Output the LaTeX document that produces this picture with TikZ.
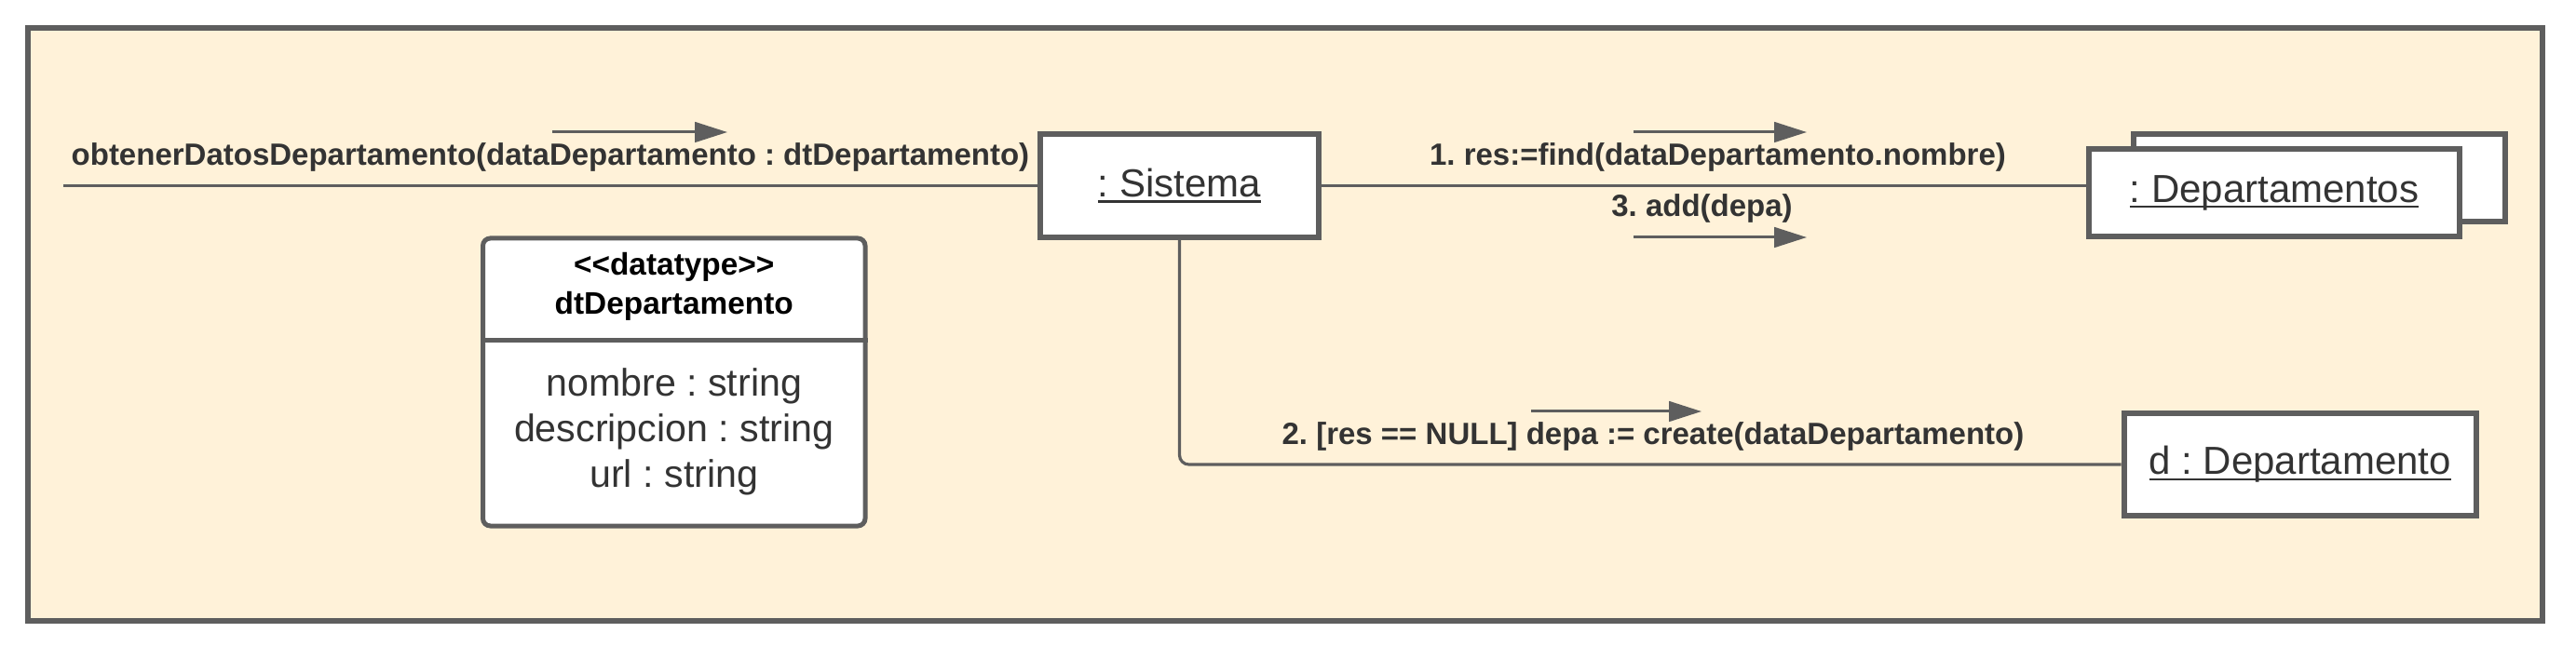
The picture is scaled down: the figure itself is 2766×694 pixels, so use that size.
\documentclass[tikz,border=0pt]{standalone}
\usepackage{fontspec}
\setmainfont{Liberation Sans}
\newcommand\objul[1]{\raisebox{1.5pt}{\setbox0\hbox{#1}\rlap{\vrule height -2pt depth 3.2pt width \wd0}\box0}}
\usetikzlibrary{arrows.meta}
\definecolor{frameFill}{HTML}{FFF2D9}
\definecolor{lineGray}{HTML}{5E5E5E}
\definecolor{txt}{HTML}{333333}
\begin{document}
\frenchspacing
\begin{tikzpicture}[x=0.5pt,y=-0.5pt,
  box/.style={draw=lineGray, line width=3pt, fill=white, inner sep=0pt},
  conn/.style={draw=lineGray, line width=1.6pt},
  msg/.style={draw=lineGray, line width=1.5pt, -{Triangle[length=17.5pt,width=10.8pt]}},
  lbl/.style={text=txt, font=\bfseries\fontsize{16.5}{19}\selectfont, inner sep=0pt},
  objtxt/.style={text=txt, font=\fontsize{21}{24}\selectfont}]
\useasboundingbox[fill=white] (0,0) rectangle (2766,694);
\draw[draw=lineGray, line width=3pt, fill=frameFill] (29.7,29.7) rectangle (2729.7,666.7);

% objects
\node[box, objtxt, minimum width=149.5pt, minimum height=55.7pt] (sis) at (1266.5,199.3) {\objul{: Sistema}};
\node[box, minimum width=199.5pt, minimum height=47pt] (depB) at (2490.5,191) {};
\node[box, objtxt, minimum width=199pt, minimum height=47pt] (depF) at (2442,207) {\objul{: Departamentos}};
\node[box, objtxt, minimum width=189.25pt, minimum height=55pt] (dd) at (2469.75,499) {\objul{d : Departamento}};

% datatype class
\node[draw=lineGray, line width=2.5pt, fill=white, rounded corners=4pt, minimum width=205.25pt, minimum height=154.5pt, inner sep=0pt] (dt) at (723.75,410.5) {};
\draw[draw=lineGray, line width=2.5pt] (dt.west |- 0,366) -- (dt.east |- 0,366);
\node[align=center, font=\bfseries\fontsize{16.7}{21}\selectfont, text=black, inner sep=0pt] (dthead) at (723.75,308) {<{}<datatype>{}>\\dtDepartamento};
\node[align=center, font=\fontsize{20.6}{24.5}\selectfont, text=txt, inner sep=0pt] (dtattr) at (723.75,464) {nombre : string\\descripcion : string\\url : string};

% connectors
\coordinate (start) at (68,199.3);
\draw[conn] (start) -- (sis.west);
\draw[conn] (sis.east) -- (sis.east -| depF.west);
\draw[conn, rounded corners=5pt] (sis.south) |- (dd.west);

% message labels
\node[lbl] (m0) at (591,169) {obtenerDatosDepartamento(dataDepartamento : dtDepartamento)};
\node[lbl] (m1) at (1844.5,169) {1. res:=find(dataDepartamento.nombre)};
\node[lbl] (m3) at (1827.5,224) {3. add(depa)};
\node[lbl] (m2) at (1775,469) {2. [res == NULL] depa := create(dataDepartamento)};

% message arrows
\coordinate (a0s) at (593,142); \coordinate (a0e) at (781,142);
\coordinate (a1s) at (1754,142); \coordinate (a1e) at (1940,142);
\coordinate (a3s) at (1754,255); \coordinate (a3e) at (1940,255);
\coordinate (a2s) at (1644,442); \coordinate (a2e) at (1827,442);
\draw[msg] (a0s) -- (a0e);
\draw[msg] (a1s) -- (a1e);
\draw[msg] (a3s) -- (a3e);
\draw[msg] (a2s) -- (a2e);
\end{tikzpicture}
\end{document}
